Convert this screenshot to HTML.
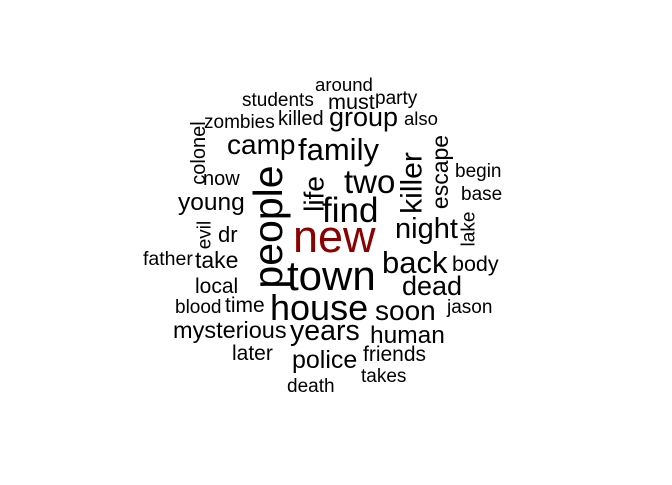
<!DOCTYPE html>
<html><head><meta charset="utf-8"><style>
html,body{margin:0;padding:0;background:#fff;}
svg text{font-family:"Liberation Sans",sans-serif;fill:#000;}
</style></head><body>
<svg width="672" height="480" viewBox="0 0 672 480" xmlns="http://www.w3.org/2000/svg">
<g id="words"></g>
</svg>
<script>
// horizontal words: word, left x, baseline y, font size
const words=["new","town","house","find","two","family","group","camp","night","back","dead","soon","human","years","police","mysterious","blood","time","local","take","father","later","death","takes","friends","jason","body","dr","young","now","zombies","killed","students","around","must","party","also","begin","base"];
const xs=[293,287,270,322,344,298,329,227,395,382,402,375,370,290,292,173,175,225,195,195,143,232,287,361,363,447,452,218,178,203,204,278,242,315,328,375,404,455,461];
const ys=[252,290,320,222,193,160,126,154,238,273,295,320,343,340,368,338,313,312,293,268,265,360,392,382,361,313,271,242,210,185,128,125,106,91,109,104,125,177,200];
const sizes=[45,42,36,35,33,31,27,28,29,31,27,28,24.5,28.5,25,23.5,19,21,21,23,19.5,21,19,19,21,19,21.5,22,24.5,20,19,20,19,18.6,21.6,19,18.5,19,19];
// vertical words: word, center x, center y, font size
const vwords=["people","killer","escape","life","lake","evil","colonel"];
const vxs=[268,412,440,314,469,205,199];
const vys=[227,183,172,194,229,235,153];
const vsizes=[41,30,23,28,19,19,20];
const g=document.getElementById('words');
const NS="http://www.w3.org/2000/svg";
words.forEach((w,i)=>{
  const t=document.createElementNS(NS,'text');
  
  
  t.setAttribute('x',xs[i]);t.setAttribute('y',ys[i]);
  t.setAttribute('font-size',sizes[i]);
  t.textContent=w;
  if(w==="new")t.style.fill="#8b0000";
  g.appendChild(t);
});
vwords.forEach((w,i)=>{
  const t=document.createElementNS(NS,'text');
  
  
  t.setAttribute('x',vxs[i]);t.setAttribute('y',vys[i]);
  t.setAttribute('font-size',vsizes[i]);
  t.setAttribute('text-anchor','middle');
  t.setAttribute('dominant-baseline','central');
  t.setAttribute('transform','rotate(-90 '+vxs[i]+' '+vys[i]+')');
  t.textContent=w;
  g.appendChild(t);
});
</script>
</body></html>
